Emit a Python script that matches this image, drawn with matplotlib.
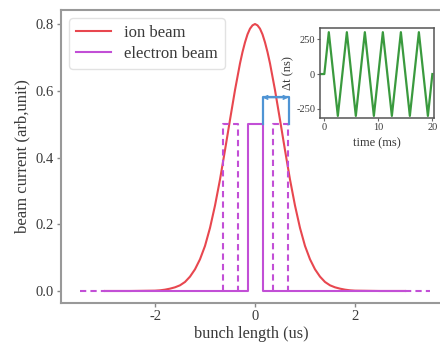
import matplotlib
matplotlib.use("Agg")
import matplotlib.pyplot as plt

plt.rcParams['font.family'] = ['Liberation Serif', 'DejaVu Serif']
plt.rcParams['axes.unicode_minus'] = False

# ion beam profile
ion_x = [-3.0, -2.5, -2.0, -1.9, -1.8, -1.7, -1.6, -1.5, -1.4, -1.3, -1.2, -1.1, -1.0,
         -0.9, -0.8, -0.7, -0.6, -0.5, -0.4, -0.3, -0.25, -0.2, -0.15, -0.1, -0.05, 0.0,
         0.05, 0.1, 0.15, 0.2, 0.25, 0.3, 0.4, 0.5, 0.6, 0.7, 0.8, 0.9, 1.0,
         1.1, 1.2, 1.3, 1.4, 1.5, 1.6, 1.7, 1.8, 1.9, 2.0, 2.5, 3.0]
ion_y = [0.0, 0.0, 0.001, 0.002, 0.004, 0.007, 0.011, 0.017, 0.027, 0.043, 0.065, 0.095, 0.135,
         0.189, 0.256, 0.334, 0.422, 0.513, 0.602, 0.682, 0.716, 0.745, 0.769, 0.786, 0.796, 0.800,
         0.796, 0.786, 0.769, 0.745, 0.716, 0.682, 0.602, 0.513, 0.422, 0.334, 0.256, 0.189, 0.135,
         0.095, 0.065, 0.043, 0.027, 0.017, 0.011, 0.007, 0.004, 0.002, 0.001, 0.0, 0.0]

# electron beam: centre bunch (solid) and shifted bunches (dashed)
electron_x = [-3.0, -0.15, -0.15, 0.15, 0.15, 3.0]
electron_y = [0.0, 0.0, 0.5, 0.5, 0.0, 0.0]
shift_left_x = [-0.65, -0.65, -0.35, -0.35]
shift_right_x = [0.35, 0.35, 0.65, 0.65]
shift_y = [0.0, 0.5, 0.5, 0.0]
tail_left_x = [-3.5, -3.0]
tail_right_x = [3.0, 3.5]
tail_y = [0.0, 0.0]

# delta t bracket
bracket_x = [0.15, 0.15, 0.67, 0.67]
bracket_y = [0.5, 0.58, 0.58, 0.5]

# inset: delta t modulation
time_ms = [-0.8, 0.0, 0.83, 2.5, 4.17, 5.83, 7.5, 9.17, 10.83, 12.5, 14.17, 15.83, 17.5, 19.17, 20.0]
delta_t_ns = [0, 0, 300, -300, 300, -300, 300, -300, 300, -300, 300, -300, 300, -300, 0]

red = '#e8474f'
purple = '#c24fd6'
blue = '#4f94d4'
green = '#3a9a3e'
txt = '#3a3a3a'

fig = plt.figure(figsize=(4.4, 3.45), dpi=100)
ax = fig.add_axes([61 / 440, 1 - 303 / 345, 381 / 440, 293 / 345])

ax.plot(ion_x, ion_y, color=red, lw=1.5, label='ion beam')
ax.plot(electron_x, electron_y, color=purple, lw=1.5, label='electron beam')
for xs in (shift_left_x, shift_right_x):
    ax.plot(xs, shift_y, color=purple, lw=1.5, ls=(0, (3, 2)))
for xs in (tail_left_x, tail_right_x):
    ax.plot(xs, tail_y, color=purple, lw=1.5, ls=(0, (3, 2)))

ax.plot(bracket_x, bracket_y, color=blue, lw=1.6)
ax.annotate('', xy=(bracket_x[0], bracket_y[1]), xytext=(bracket_x[2], bracket_y[2]),
            arrowprops=dict(arrowstyle='<->', color=blue, lw=1.2, mutation_scale=6,
                            shrinkA=0, shrinkB=0))

ax.set_xlim(-3.88, 3.74)
ax.set_ylim(-0.036, 0.842)
ax.set_xticks([-2, 0, 2])
ax.set_yticks([0.0, 0.2, 0.4, 0.6, 0.8])
ax.set_xlabel('bunch length (us)', fontsize=11.8, color=txt, labelpad=2)
ax.set_ylabel('beam current (arb,unit)', fontsize=12, color=txt, labelpad=4)
ax.tick_params(direction='out', length=3, width=1, color='#888888',
               labelsize=10.5, labelcolor=txt, pad=2)
for s in ('top', 'left', 'bottom'):
    ax.spines[s].set_color('#999999')
    ax.spines[s].set_linewidth(1.5)
ax.spines['right'].set_visible(False)

leg = ax.legend(loc='upper left', fontsize=12, handlelength=2.1, labelspacing=0.3,
                borderaxespad=0.5, framealpha=0.85, edgecolor='#dddddd')
for t in leg.get_texts():
    t.set_color(txt)

ins = fig.add_axes([320 / 440, 1 - 118 / 345, 114 / 440, 90 / 345])
ins.plot(time_ms, delta_t_ns, color=green, lw=1.6)
ins.set_xlim(-0.8, 20.3)
ins.set_ylim(-315, 330)
ins.set_xticks([0, 10, 20])
ins.set_yticks([-250, 0, 250])
ins.set_xlabel('time (ms)', fontsize=9, color=txt, labelpad=4)
ins.set_ylabel('\u0394t (ns)', fontsize=9, color=txt, labelpad=1)
ins.tick_params(direction='out', length=2, width=0.8, color='#666666',
                labelsize=7.5, labelcolor=txt, pad=1.5)
for s in ins.spines.values():
    s.set_color('#555555')
    s.set_linewidth(1.1)

fig.savefig('out.png', dpi=100)
